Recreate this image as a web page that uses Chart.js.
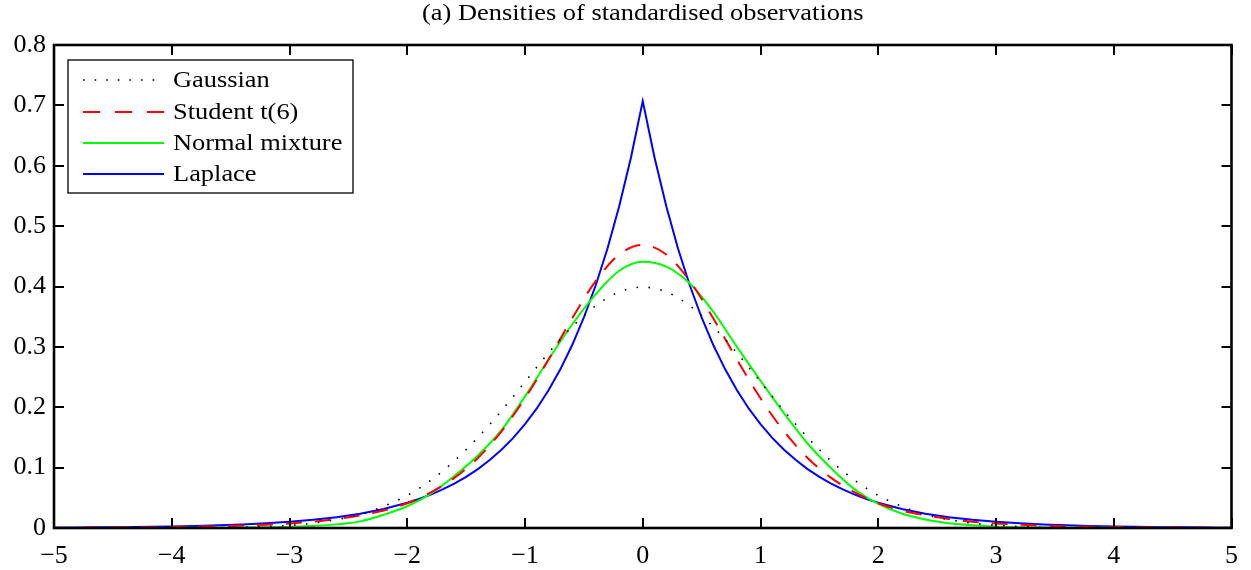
<!DOCTYPE html>
<html>
<head>
<meta charset="utf-8">
<script src="https://cdn.jsdelivr.net/npm/chart.js@4.4.1/dist/chart.umd.min.js"></script>
<style>
  html, body { margin: 0; padding: 0; background: #fff; }
  #wrap { width: 1251px; height: 570px; position: relative; }
</style>
</head>
<body>
<div id="wrap"><canvas id="chart"></canvas></div>
<script>
// x grid (standardised observation)
const xs = [-5, -4.8, -4.6, -4.4, -4.2, -4, -3.8, -3.6, -3.4, -3.2, -3, -2.8, -2.6, -2.4, -2.2, -2, -1.8, -1.6, -1.4, -1.2, -1, -0.8, -0.6, -0.4, -0.2,
            0, 0.2, 0.4, 0.6, 0.8, 1, 1.2, 1.4, 1.6, 1.8, 2, 2.2, 2.4, 2.6, 2.8, 3, 3.2, 3.4, 3.6, 3.8, 4, 4.2, 4.4, 4.6, 4.8, 5];

// densities
const gaussian = [0, 0, 0, 0, 0, 0.0001, 0.0003, 0.0006, 0.0012, 0.0024, 0.0044, 0.008, 0.014, 0.022, 0.036, 0.054, 0.079, 0.111, 0.150, 0.194, 0.242, 0.290, 0.333, 0.368, 0.391,
                  0.399, 0.391, 0.368, 0.333, 0.290, 0.242, 0.194, 0.150, 0.111, 0.079, 0.054, 0.036, 0.022, 0.014, 0.008, 0.0044, 0.0024, 0.0012, 0.0006, 0.0003, 0.0001, 0, 0, 0, 0, 0];

const studentT = [0.0005, 0.0006, 0.0008, 0.0010, 0.0013, 0.0017, 0.0022, 0.0030, 0.0040, 0.0055, 0.0076, 0.0105, 0.015, 0.021, 0.029, 0.041, 0.059, 0.083, 0.116, 0.160, 0.215, 0.279, 0.347, 0.409, 0.453,
                  0.469, 0.453, 0.409, 0.347, 0.279, 0.215, 0.160, 0.116, 0.083, 0.059, 0.041, 0.029, 0.021, 0.015, 0.0105, 0.0076, 0.0055, 0.0040, 0.0030, 0.0022, 0.0017, 0.0013, 0.0010, 0.0008, 0.0006, 0.0005];

const normalMix = [0, 0, 0, 0.0001, 0.0001, 0.0002, 0.0003, 0.0005, 0.0008, 0.0013, 0.002, 0.0035, 0.006, 0.011, 0.022, 0.036, 0.057, 0.086, 0.120, 0.162, 0.218, 0.279, 0.337, 0.387, 0.426,
                   0.441, 0.433, 0.405, 0.358, 0.300, 0.244, 0.190, 0.140, 0.099, 0.064, 0.040, 0.024, 0.014, 0.008, 0.0045, 0.0025, 0.0014, 0.0008, 0.0005, 0.0003, 0.0002, 0.0001, 0.0001, 0, 0, 0];

// Laplace has a sharp peak, so it gets a finer grid in the middle
const laplaceX = [-5, -4.8, -4.6, -4.4, -4.2, -4, -3.8, -3.6, -3.4, -3.2, -3, -2.8, -2.6, -2.4, -2.2,
                  -2, -1.9, -1.8, -1.7, -1.6, -1.5, -1.4, -1.3, -1.2, -1.1, -1, -0.9, -0.8, -0.7, -0.6, -0.5, -0.4, -0.3, -0.2, -0.1,
                  0, 0.1, 0.2, 0.3, 0.4, 0.5, 0.6, 0.7, 0.8, 0.9, 1, 1.1, 1.2, 1.3, 1.4, 1.5, 1.6, 1.7, 1.8, 1.9, 2,
                  2.2, 2.4, 2.6, 2.8, 3, 3.2, 3.4, 3.6, 3.8, 4, 4.2, 4.4, 4.6, 4.8, 5];
const laplace = [0.0006, 0.0008, 0.0011, 0.0014, 0.0019, 0.0025, 0.0033, 0.0044, 0.0058, 0.0077, 0.0102, 0.0135, 0.0179, 0.0237, 0.0315,
                 0.0418, 0.0481, 0.0554, 0.0639, 0.0736, 0.0848, 0.0976, 0.1125, 0.1295, 0.1493, 0.1719, 0.1980, 0.2281, 0.2628, 0.3026, 0.3487, 0.4016, 0.4626, 0.5329, 0.6138,
                 0.7071, 0.6138, 0.5329, 0.4626, 0.4016, 0.3487, 0.3026, 0.2628, 0.2281, 0.1980, 0.1719, 0.1493, 0.1295, 0.1125, 0.0976, 0.0848, 0.0736, 0.0639, 0.0554, 0.0481, 0.0418,
                 0.0315, 0.0237, 0.0179, 0.0135, 0.0102, 0.0077, 0.0058, 0.0044, 0.0033, 0.0025, 0.0019, 0.0014, 0.0011, 0.0008, 0.0006];

const seriesNames = ['Gaussian', 'Student t(6)', 'Normal mixture', 'Laplace'];
const titleText = '(a) Densities of standardised observations';
const xTicks = [-5, -4, -3, -2, -1, 0, 1, 2, 3, 4, 5];
const yTicks = [0, 0.1, 0.2, 0.3, 0.4, 0.5, 0.6, 0.7, 0.8];

const serif = '"Liberation Serif", "DejaVu Serif", serif';

function pts(xv, ys) {
    return xv.map((x, i) => ({ x: x, y: ys[i] }));
}

function fmt(v) {
    if (Math.abs(v) < 1e-9) return '0';
    let s = String(Math.round(v * 10) / 10);
    return s.replace('-', '\u2212');
}

// text a bit wider than the font, like the reference
function wideText(ctx, text, x, y, sx) {
    ctx.save();
    ctx.translate(x, y);
    ctx.scale(sx, 1);
    ctx.fillText(text, 0, 0);
    ctx.restore();
}

// MATLAB-like box, inward ticks, legend and title
const matlabBox = {
    id: 'matlabBox',
    afterDraw(chart) {
        const ctx = chart.ctx;
        const a = chart.chartArea;
        const sx = chart.scales.x, sy = chart.scales.y;
        ctx.save();
        ctx.strokeStyle = '#000';
        ctx.lineWidth = 2;
        const tl = 10;
        ctx.beginPath();
        xTicks.forEach(v => {
            const p = Math.round(sx.getPixelForValue(v));
            ctx.moveTo(p, a.bottom); ctx.lineTo(p, a.bottom - tl);
            ctx.moveTo(p, a.top); ctx.lineTo(p, a.top + tl);
        });
        yTicks.forEach(v => {
            const p = Math.round(sy.getPixelForValue(v));
            ctx.moveTo(a.left, p); ctx.lineTo(a.left + tl, p);
            ctx.moveTo(a.right, p); ctx.lineTo(a.right - tl, p);
        });
        ctx.stroke();
        ctx.lineWidth = 2.6;
        ctx.strokeRect(a.left, a.top, a.right - a.left, a.bottom - a.top);

        // title
        ctx.fillStyle = '#000';
        ctx.font = '24px ' + serif;
        ctx.textAlign = 'center';
        ctx.textBaseline = 'middle';
        wideText(ctx, titleText, (a.left + a.right) / 2, 14, 1.1);

        // legend
        const lx = a.left + 14, ly = a.top + 15, lw = 285, lh = 133;
        ctx.fillStyle = '#fff';
        ctx.fillRect(lx, ly, lw, lh);
        ctx.lineWidth = 1.3;
        ctx.strokeStyle = '#000';
        ctx.strokeRect(lx, ly, lw, lh);
        ctx.font = '24px ' + serif;
        ctx.textAlign = 'left';
        const rows = [80, 112, 143, 174];
        chart.data.datasets.forEach((ds, i) => {
            const yy = rows[i];
            ctx.save();
            ctx.strokeStyle = ds.borderColor;
            ctx.lineWidth = ds.borderWidth;
            ctx.setLineDash(ds.legendDash || []);
            ctx.beginPath();
            ctx.moveTo(83, yy);
            ctx.lineTo(164, yy);
            ctx.stroke();
            ctx.restore();
            ctx.fillStyle = '#000';
            wideText(ctx, ds.label, 173, yy + 1, 1.1);
        });
        ctx.restore();
    }
};

const ctx = document.getElementById('chart').getContext('2d');
new Chart(ctx, {
    type: 'line',
    data: {
        datasets: [
            { label: seriesNames[0], data: pts(xs, gaussian), borderColor: '#000000', borderWidth: 1.6, borderDash: [1.6, 10.4], legendDash: [1.6, 10], cubicInterpolationMode: 'monotone' },
            { label: seriesNames[1], data: pts(xs, studentT), borderColor: '#ff0000', borderWidth: 2, borderDash: [16, 13], legendDash: [17, 15], cubicInterpolationMode: 'monotone' },
            { label: seriesNames[2], data: pts(xs, normalMix), borderColor: '#00ff00', borderWidth: 2, cubicInterpolationMode: 'monotone' },
            { label: seriesNames[3], data: pts(laplaceX, laplace), borderColor: '#0000ff', borderWidth: 2, tension: 0 }
        ]
    },
    options: {
        responsive: true,
        maintainAspectRatio: false,
        animation: false,
        events: [],
        elements: { point: { radius: 0 } },
        layout: { padding: { left: 0, right: 18, top: 45, bottom: 0 } },
        plugins: {
            legend: { display: false },
            title: { display: false },
            tooltip: { enabled: false }
        },
        scales: {
            x: {
                type: 'linear',
                min: -5, max: 5,
                grid: { display: false, drawTicks: false },
                border: { display: false },
                afterBuildTicks: s => { s.ticks = xTicks.map(v => ({ value: v })); },
                afterFit: s => { s.height = 42; },
                ticks: {
                    padding: 13,
                    color: '#000',
                    font: { family: serif, size: 26 },
                    maxRotation: 0,
                    callback: v => fmt(v)
                }
            },
            y: {
                min: 0, max: 0.8,
                grid: { display: false, drawTicks: false },
                border: { display: false },
                afterBuildTicks: s => { s.ticks = yTicks.map(v => ({ value: v })); },
                afterFit: s => { s.width = 54; },
                ticks: {
                    padding: 8,
                    color: '#000',
                    font: { family: serif, size: 26 },
                    callback: v => fmt(v)
                }
            }
        }
    },
    plugins: [matlabBox]
});
</script>
</body>
</html>
